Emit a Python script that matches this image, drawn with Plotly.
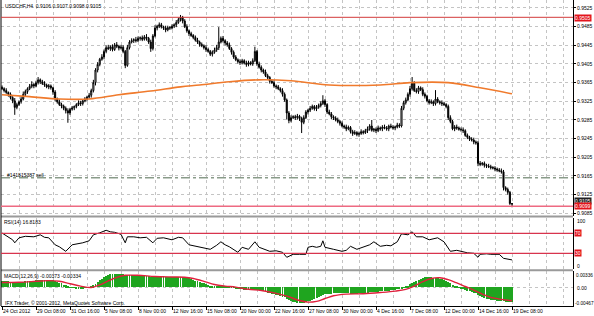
import plotly.graph_objects as go

# ---------------- data (prices in pips above 0.9000) ----------------
first_open = 355
close_pips = [
    352, 348, 344, 340, 333, 326, 312, 318, 324, 330,
    340, 346, 352, 357, 361, 358, 365, 371, 367, 363,
    360, 356, 358, 354, 345, 330, 324, 318, 315, 310,
    305, 300, 308, 311, 314, 318, 322, 320, 326, 330,
    334, 338, 348, 365, 392, 404, 415, 420, 432, 440,
    438, 442, 436, 446, 443, 439, 441, 432, 402, 440,
    452, 455, 457, 455, 460, 461, 458, 463, 460, 452,
    438, 465, 482, 486, 489, 484, 482, 478, 483, 482,
    486, 489, 494, 500, 505, 497, 485, 476, 470, 466,
    462, 456, 452, 447, 444, 440, 436, 432, 426, 430,
    435, 440, 452, 460, 455, 450, 446, 438, 430, 420,
    414, 410, 408, 412, 407, 404, 408, 405, 412, 432,
    405, 398, 392, 388, 380, 376, 368, 365, 358, 356,
    352, 348, 340, 328, 300, 284, 290, 292, 290, 293,
    288, 280, 290, 302, 306, 310, 314, 309, 312, 316,
    320, 326, 318, 302, 298, 292, 289, 285, 282, 278,
    272, 270, 266, 269, 260, 256, 258, 254, 256, 260,
    258, 262, 266, 272, 263, 265, 262, 268, 266, 270,
    268, 266, 272, 270, 268, 270, 274, 272, 310, 322,
    328, 340, 352, 364, 348, 346, 354, 350, 340, 336,
    326, 322, 324, 320, 330, 324, 322, 320, 318, 314,
    290, 282, 266, 270, 268, 265, 264, 262, 252, 248,
    244, 242, 238, 236, 192, 190, 192, 188, 186, 185,
    183, 182, 180, 178, 176, 174, 140, 136, 130, 106,
    105,
]
hi_wick = [
    4, 3, 5, 2, 4, 3, 6, 4, 3, 5,
    6, 4, 3, 5, 7, 3, 4, 6, 3, 4,
    5, 3, 4, 3, 2, 4, 3, 5, 4, 3,
    4, 5, 3, 4, 2, 3, 5, 4, 3, 4,
    3, 5, 4, 6, 4, 5, 3, 6, 4, 5,
    6, 3, 5, 4, 6, 3, 5, 4, 3, 6,
    4, 5, 3, 6, 4, 3, 5, 4, 6, 3,
    5, 4, 6, 3, 5, 4, 3, 5, 4, 3,
    4, 3, 5, 4, 5, 3, 4, 5, 3, 4,
    3, 4, 5, 3, 4, 3, 5, 4, 3, 4,
    5, 6, 32, 4, 5, 3, 4, 5, 3, 4,
    4, 3, 5, 4, 3, 5, 4, 3, 5, 10,
    3, 5, 4, 3, 5, 4, 3, 4, 5, 3,
    4, 3, 5, 4, 3, 4, 5, 3, 4, 5,
    3, 4, 5, 4, 3, 5, 4, 3, 5, 4,
    5, 12, 4, 3, 5, 4, 3, 4, 5, 3,
    4, 3, 5, 4, 3, 4, 5, 3, 4, 5,
    3, 4, 5, 4, 13, 3, 4, 5, 3, 4,
    5, 4, 3, 5, 4, 3, 5, 4, 5, 4,
    5, 4, 6, 13, 4, 5, 4, 3, 5, 4,
    3, 4, 5, 3, 19, 4, 3, 5, 4, 3,
    4, 5, 3, 4, 5, 3, 4, 5, 3, 4,
    3, 4, 5, 3, 4, 5, 3, 4, 3, 5,
    4, 3, 4, 3, 4, 5, 4, 3, 4, 3,
    1,
]
lo_wick = [
    3, 4, 3, 5, 4, 5, 16, 4, 3, 4,
    3, 4, 5, 3, 4, 5, 3, 4, 5, 3,
    4, 3, 5, 4, 6, 5, 4, 3, 5, 4,
    6, 21, 4, 3, 5, 4, 3, 5, 4, 3,
    4, 3, 5, 4, 6, 5, 4, 3, 5, 4,
    3, 5, 4, 3, 4, 5, 3, 4, 6, 3,
    4, 3, 5, 4, 3, 5, 4, 3, 5, 4,
    7, 4, 3, 5, 4, 3, 4, 5, 3, 4,
    3, 4, 5, 3, 4, 5, 3, 4, 5, 3,
    4, 3, 4, 5, 3, 4, 5, 3, 4, 5,
    3, 4, 5, 3, 4, 5, 4, 3, 5, 4,
    3, 4, 5, 4, 3, 5, 4, 3, 4, 3,
    4, 3, 5, 4, 3, 4, 5, 3, 4, 5,
    3, 4, 5, 4, 14, 6, 4, 3, 5, 4,
    5, 23, 4, 3, 5, 4, 3, 4, 5, 3,
    4, 3, 5, 4, 3, 5, 4, 3, 4, 5,
    3, 4, 5, 3, 4, 5, 3, 4, 5, 3,
    4, 3, 5, 4, 3, 4, 5, 3, 4, 5,
    3, 4, 5, 3, 4, 5, 3, 4, 3, 4,
    4, 3, 5, 4, 3, 4, 5, 3, 4, 5,
    3, 4, 3, 5, 4, 3, 4, 5, 3, 4,
    5, 4, 3, 5, 4, 3, 4, 5, 3, 4,
    4, 3, 5, 4, 6, 4, 3, 5, 4, 3,
    4, 3, 5, 4, 3, 4, 6, 4, 5, 3,
    7,
]

# moving average (orange), sampled bars
ma_idx = [0, 13, 27, 41, 55, 70, 84, 93, 107, 121, 136, 154, 178, 192, 210, 225, 240]
ma_pips = [339, 335, 330, 330, 339, 347, 356, 360, 367, 371, 369, 360, 360, 365, 365, 354, 341]

# RSI(14)
rsi_idx = [0, 3, 5, 6, 8, 11, 15, 18, 20, 22, 25, 27, 30, 33, 36, 38, 41, 43, 46, 49,
           51, 53, 56, 58, 59, 62, 65, 68, 71, 73, 76, 80, 83, 85, 88, 93, 96, 98, 101, 103,
           105, 107, 111, 113, 116, 119, 121, 124, 126, 129, 132, 134, 137, 140, 143, 144, 146, 148, 150, 151,
           152, 156, 160, 162, 164, 167, 170, 173, 175, 178, 181, 183, 186, 188, 191, 193, 195, 198, 201, 203,
           205, 208, 211, 214, 217, 219, 222, 224, 225, 228, 230, 234, 236, 239, 240]
rsi_val = [70.6, 62, 57, 51, 61, 64, 63, 67, 62, 61, 47, 43, 34, 47, 49, 51, 55, 67, 71, 76,
           73, 72, 68, 51, 63, 63, 61, 62, 51, 60, 61, 57, 62, 61, 47, 42, 40, 38, 46, 53,
           47, 43, 32, 42, 38, 53, 42, 38, 34, 35, 32, 22, 28, 28, 28, 42, 44, 42, 44, 55,
           42, 38, 34, 36, 44, 38, 42, 47, 53, 44, 46, 45, 53, 69, 67, 73, 63, 63, 57, 59,
           61, 53, 34, 36, 33, 31, 30, 22, 28, 29, 28, 28, 20, 18, 16.8]

# MACD(12,26,9) main (histogram) in 1e-5
macd_main = [
    140, 142, 140, 138, 135, 132, 126, 124, 125, 128,
    134, 140, 148, 155, 160, 162, 168, 175, 178, 178,
    178, 176, 175, 172, 165, 150, 130, 110, 88, 62,
    38, 15, -2, -14, -22, -28, -30, -30, -26, -20,
    -12, -4, 10, 38, 84, 128, 172, 212, 250, 280,
    300, 318, 328, 336, 336, 334, 332, 326, 296, 290,
    292, 294, 295, 292, 290, 288, 284, 282, 278, 270,
    256, 254, 258, 262, 266, 266, 264, 260, 258, 256,
    254, 252, 252, 254, 258, 254, 244, 230, 214, 198,
    180, 162, 144, 126, 108, 90, 72, 54, 36, 24,
    16, 12, 18, 28, 32, 30, 24, 14, 2, -12,
    -26, -40, -52, -58, -66, -72, -76, -82, -84, -70,
    -76, -86, -98, -110, -124, -138, -154, -168, -184, -196,
    -208, -222, -238, -258, -296, -330, -352, -370, -384, -396,
    -392, -398, -392, -378, -360, -340, -316, -296, -272, -248,
    -226, -200, -186, -176, -170, -164, -160, -158, -156, -156,
    -158, -160, -162, -162, -164, -166, -164, -164, -162, -158,
    -156, -150, -144, -134, -132, -126, -122, -116, -112, -106,
    -100, -96, -88, -82, -76, -70, -62, -56, -36, -12,
    10, 36, 68, 104, 130, 156, 182, 210, 236, 258,
    262, 256, 248, 236, 230, 218, 204, 190, 174, 156,
    124, 94, 56, 28, 6, -14, -32, -48, -68, -88,
    -106, -124, -142, -160, -196, -226, -252, -272, -290, -304,
    -316, -326, -334, -342, -348, -352, -356, -362, -366, -372,
    -373,
]
sig_idx = [0, 8, 16, 22, 27, 32, 37, 42, 46, 50, 54, 58, 64, 72, 80, 86, 90, 95, 100, 105,
           110, 116, 122, 128, 134, 140, 144, 148, 152, 156, 162, 170, 178, 185, 190, 194, 198, 202, 206, 210,
           214, 218, 222, 226, 230, 235, 240]
sig_val = [120, 128, 150, 168, 150, 90, 30, -5, 60, 160, 250, 300, 300, 270, 258, 252, 220, 150, 70, 30,
           5, -50, -80, -140, -220, -330, -370, -350, -280, -210, -170, -160, -130, -95, -50, 30, 140, 220, 240, 190,
           110, 20, -70, -170, -250, -300, -334]

tick_bars = [0, 16, 32, 48, 64, 80, 96, 112, 128, 144, 160, 176, 192, 208, 224, 240]
tick_text = ["24 Oct 2012", "29 Oct 08:00", "31 Oct 16:00", "5 Nov 08:00", "8 Nov 00:00",
             "12 Nov 16:00", "15 Nov 08:00", "20 Nov 00:00", "22 Nov 16:00", "27 Nov 08:00",
             "30 Nov 00:00", "4 Dec 16:00", "7 Dec 08:00", "12 Dec 00:00", "14 Dec 16:00",
             "19 Dec 08:00"]
price_ticks = [0.9085, 0.9125, 0.9165, 0.9205, 0.9245, 0.9285, 0.9325, 0.9365,
               0.9405, 0.9445, 0.9485, 0.9525]

level_red = 0.9505
level_bid = 0.9100
order_level = 0.9161

# ---------------- build ----------------
N = len(close_pips)
xs = list(range(N))
close = [0.9 + c / 10000 for c in close_pips]
open_ = [0.9 + first_open / 10000] + close[:-1]
high = [max(o, c) + h / 10000 for o, c, h in zip(open_, close, hi_wick)]
low = [min(o, c) - l / 10000 for o, c, l in zip(open_, close, lo_wick)]

W, H = 594, 316
ML, MR, MT, MB = 1, 21, 0, 10
PW, PH = W - ML - MR, H - MT - MB


def py(p):  # pixel y -> paper
    return (PH - p) / PH


def px(p):  # pixel x -> paper
    return (p - ML) / PW


FONT = "Liberation Sans, Arial, sans-serif"
GRID = "#c4c4c4"

fig = go.Figure()
fig.add_trace(go.Candlestick(
    x=xs, open=open_, high=high, low=low, close=close,
    increasing=dict(line=dict(color="black", width=1), fillcolor="white"),
    decreasing=dict(line=dict(color="black", width=1), fillcolor="black"),
    whiskerwidth=0, xaxis="x", yaxis="y", showlegend=False, hoverinfo="skip"))
fig.add_trace(go.Scatter(
    x=ma_idx, y=[0.9 + v / 10000 for v in ma_pips], mode="lines",
    line=dict(color="#f07a2c", width=1.6, shape="spline"),
    xaxis="x", yaxis="y", showlegend=False, hoverinfo="skip"))
fig.add_trace(go.Scatter(
    x=rsi_idx, y=rsi_val, mode="lines", line=dict(color="black", width=1),
    xaxis="x2", yaxis="y2", showlegend=False, hoverinfo="skip"))
fig.add_trace(go.Bar(
    x=xs, y=[v / 100000 for v in macd_main], width=0.47,
    marker=dict(color="#1fa51f", line=dict(width=0)),
    xaxis="x3", yaxis="y3", showlegend=False, hoverinfo="skip"))
fig.add_trace(go.Scatter(
    x=sig_idx, y=[v / 100000 for v in sig_val], mode="lines",
    line=dict(color="#e0203c", width=1.4, shape="spline"),
    xaxis="x3", yaxis="y3", showlegend=False, hoverinfo="skip"))

xr = [-0.47, 268.7]
main_dom = [py(215.5), 1.0]
rsi_dom = [py(269.3), py(217.5)]
macd_dom = [0.0, py(271.3)]

common_x = dict(range=xr, tickvals=tick_bars, showgrid=True, gridcolor=GRID, griddash="dot",
                gridwidth=1, zeroline=False,
                minor=dict(dtick=8, tick0=0, showgrid=True, gridcolor=GRID, griddash="dot", gridwidth=1),
                fixedrange=True)

fig.update_layout(
    width=W, height=H, margin=dict(l=ML, r=MR, t=MT, b=MB),
    paper_bgcolor="white", plot_bgcolor="white", bargap=0,
    font=dict(family=FONT, size=5, color="black"),
    xaxis=dict(domain=[0, 1], anchor="y", showticklabels=False, ticks="",
               rangeslider=dict(visible=False), **common_x),
    xaxis2=dict(domain=[0, 1], anchor="y2", showticklabels=False, ticks="", matches="x", **common_x),
    xaxis3=dict(domain=[0, 1], anchor="y3", matches="x", ticktext=tick_text, ticks="outside",
                ticklen=3, tickcolor="black", ticklabelposition="outside right", tickangle=0,
                showline=True, linecolor="black", linewidth=1,
                tickfont=dict(size=5, family=FONT), **common_x),
    yaxis=dict(domain=main_dom, anchor="x", side="right", range=[0.90803, 0.95421],
               tickvals=price_ticks, tickformat=".4f", ticks="outside", ticklen=2,
               tickcolor="black", showline=True, linecolor="black", linewidth=1,
               showgrid=True, gridcolor=GRID, griddash="dot", zeroline=False,
               tickfont=dict(size=5, family=FONT), fixedrange=True),
    yaxis2=dict(domain=rsi_dom, anchor="x2", side="right", range=[-2, 101.6],
                showticklabels=False, ticks="", showline=True, linecolor="black",
                linewidth=1, showgrid=False, zeroline=False, fixedrange=True),
    yaxis3=dict(domain=macd_dom, anchor="x3", side="right", range=[-0.00467, 0.0040],
                showticklabels=False, ticks="", showline=True, linecolor="black",
                linewidth=1, showgrid=True, gridcolor=GRID, griddash="dot",
                tickvals=[0], zeroline=False, fixedrange=True),
)

shapes = []
# pane separators
for a, b in [(215.5, 217.5), (269.3, 271.3)]:
    shapes.append(dict(type="rect", xref="paper", yref="paper", x0=0, x1=1, y0=py(b), y1=py(a),
                       fillcolor="#9a9a9a", line=dict(width=0), layer="above"))
# left border
shapes.append(dict(type="line", xref="paper", yref="paper", x0=0, x1=0, y0=0, y1=1,
                   line=dict(color="black", width=1)))
# horizontal levels in main pane
shapes.append(dict(type="line", xref="paper", yref="y", x0=0, x1=1, y0=level_red, y1=level_red,
                   line=dict(color="#d23a3a", width=1)))
shapes.append(dict(type="line", xref="paper", yref="y", x0=0, x1=1, y0=level_bid, y1=level_bid,
                   line=dict(color="#ee6a82", width=1.5)))
shapes.append(dict(type="line", xref="paper", yref="y", x0=0, x1=1, y0=order_level, y1=order_level,
                   line=dict(color="#4f6a4f", width=1, dash="dashdot")))
# RSI levels
for lv in (70, 30):
    shapes.append(dict(type="line", xref="paper", yref="y2", x0=0, x1=1, y0=lv, y1=lv,
                       line=dict(color="#d8344e", width=1.2)))
fig.update_layout(shapes=shapes)

ann = []


def txt(t, x, y, **kw):
    d = dict(text=t, x=x, y=y, xref="paper", yref="paper", showarrow=False,
             xanchor="left", yanchor="middle", font=dict(size=5, family=FONT, color="black"))
    d.update(kw)
    ann.append(d)


txt("USDCHF,H4  0.9106 0.9107 0.9098 0.9105", px(3), py(6))
txt("#141815387 sell", px(5), py(174.5))
txt("RSI(14) 16.8183", px(2), py(222))
txt("MACD(12,26,9) -0.00373 -0.00334", px(2), py(276))
txt("IFX Trader, \u00a9 2001-2012, MetaQuotes Software Corp.", px(3), py(302.5))
# right-side labels
small = dict(size=4.7, family=FONT, color="black")
txt("100", 1.0, py(221), xshift=2)
txt("0", 1.0, py(266), xshift=2)
txt("0.00336", 1.0, py(275), xshift=1, font=small)
txt("0.00", 1.0, py(287.5), xshift=2)
txt("-0.00467", 1.0, py(303.5), xshift=0, font=small)
for t, yy, bg in [("0.9505", py(17.5), "#e3141c"), ("0.9105", py(201), "#202020"),
                  ("0.9099", py(206), "#e3141c"), ("70", py(233.3), "#e3141c"),
                  ("30", py(253.3), "#e3141c")]:
    txt(t, 1.0, yy, xshift=1, bgcolor=bg, borderpad=0,
        font=dict(size=5, family=FONT, color="white"))
fig.update_layout(annotations=ann)

fig.write_html("out.html")
